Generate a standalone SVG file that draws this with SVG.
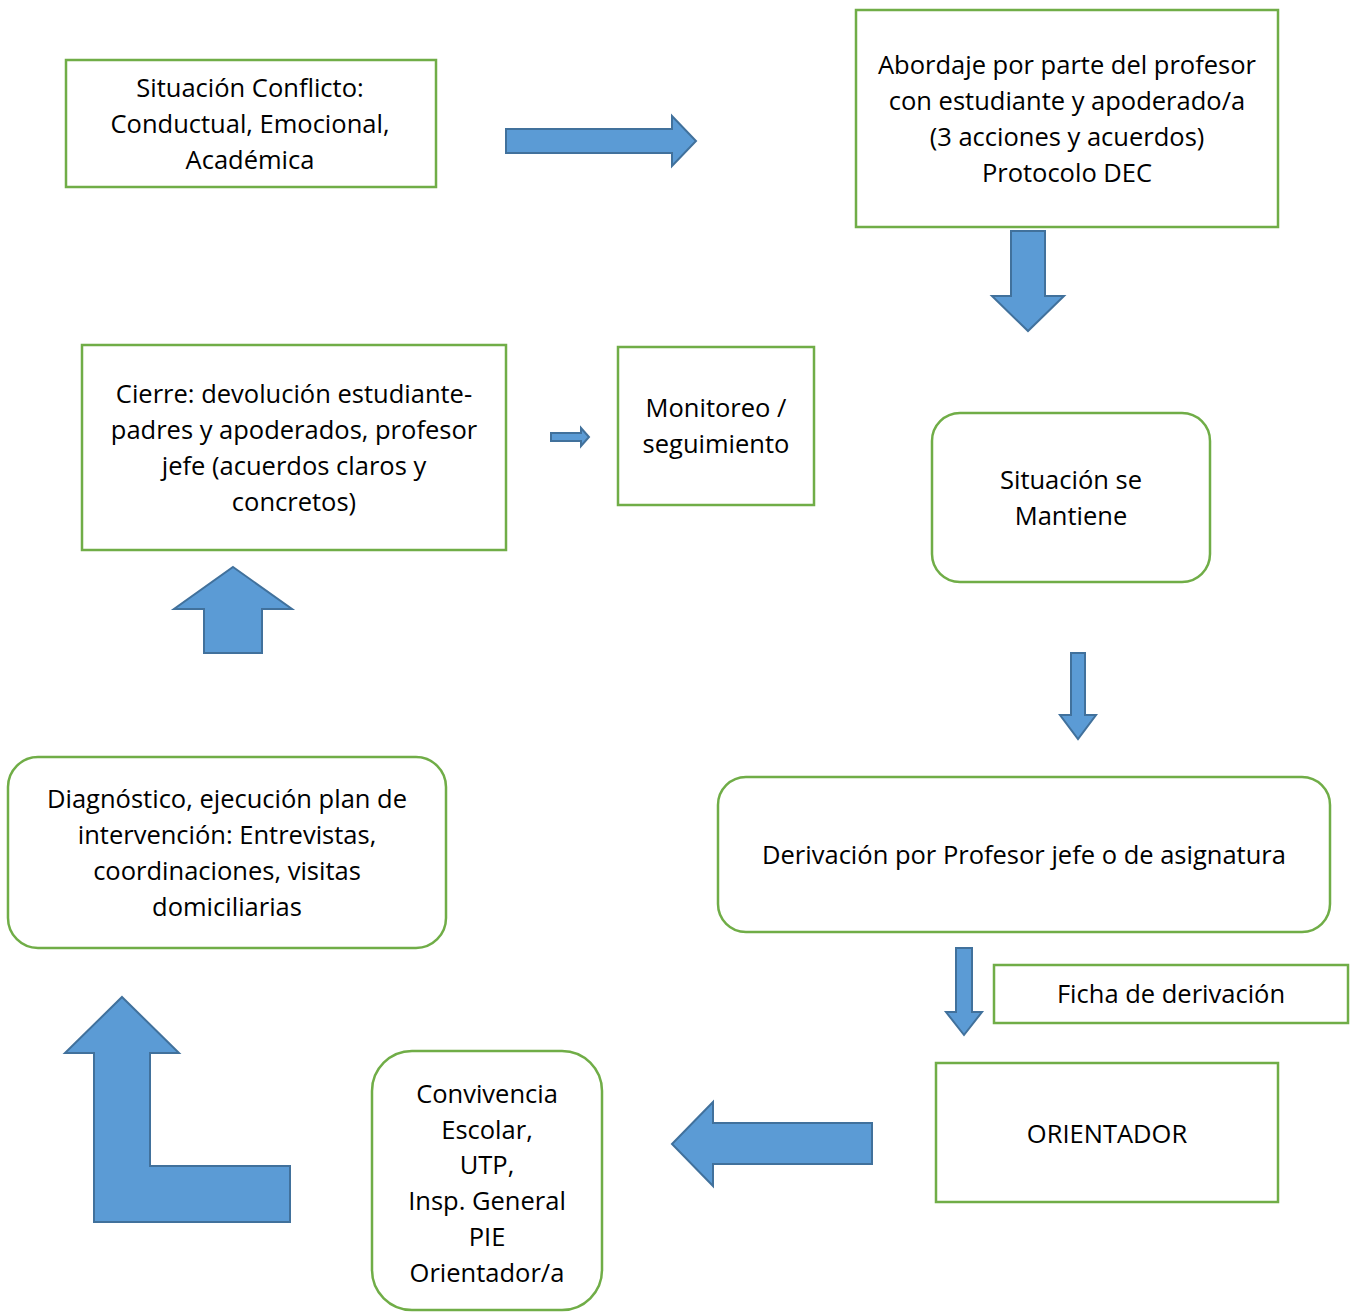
<svg xmlns="http://www.w3.org/2000/svg" width="1358" height="1312" viewBox="0 0 1358 1312">
<style>
.box{fill:#fff;stroke:#70ad47;stroke-width:2.5}
.arr{fill:#5b9bd5;stroke:#41719c;stroke-width:2;stroke-linejoin:miter}
text{font-family:"Open Sans","Noto Sans",sans-serif;font-size:25.5px;fill:#000;text-anchor:middle}
</style>
<rect width="1358" height="1312" fill="#fff"/>
<g id="connectors">
<path class="arr" d="M506,129 H672 V116 L696,141 L672,166 V153 H506 Z"/>
<path class="arr" d="M1011,231 H1045 V296 H1064 L1028,331 L992,296 H1011 Z"/>
<path class="arr" d="M551,433 H581 V428 L589,437 L581,446 V441 H551 Z"/>
<path class="arr" d="M233,567 L292,609 H262 V653 H204 V609 H174 Z"/>
<path class="arr" d="M1071,653 H1085 V715 H1096 L1078,739 L1060,715 H1071 Z"/>
<path class="arr" d="M956,948 H972 V1012 H982 L964,1035 L946,1012 H956 Z"/>
<path class="arr" d="M672,1144 L713,1102 V1123 H872 V1164 H713 V1186 Z"/>
<path class="arr" d="M122,997 L179,1053 H150 V1166 H290 V1222 H94 V1053 H65 Z"/>
</g>
<g id="n1"><rect class="box" x="66" y="60" width="370" height="127"/>
<text x="250" y="97">Situación Conflicto:</text><text x="250" y="133">Conductual, Emocional,</text><text x="250" y="169">Académica</text></g>
<g id="n2"><rect class="box" x="856" y="10" width="422" height="217"/>
<text x="1067" y="74">Abordaje por parte del profesor</text><text x="1067" y="110">con estudiante y apoderado/a</text><text x="1067" y="146">(3 acciones y acuerdos)</text><text x="1067" y="182">Protocolo DEC</text></g>
<g id="n3"><rect class="box" x="82" y="345" width="424" height="205"/>
<text x="294" y="403">Cierre: devolución estudiante-</text><text x="294" y="439">padres y apoderados, profesor</text><text x="294" y="475">jefe (acuerdos claros y</text><text x="294" y="511">concretos)</text></g>
<g id="n4"><rect class="box" x="618" y="347" width="196" height="158"/>
<text x="716" y="417">Monitoreo /</text><text x="716" y="453">seguimiento</text></g>
<g id="n5"><rect class="box" x="932" y="413" width="278" height="169" rx="28"/>
<text x="1071" y="489">Situación se</text><text x="1071" y="525">Mantiene</text></g>
<g id="n6"><rect class="box" x="718" y="777" width="612" height="155" rx="28"/>
<text x="1024" y="864">Derivación por Profesor jefe o de asignatura</text></g>
<g id="n7"><rect class="box" x="8" y="757" width="438" height="191" rx="30"/>
<text x="227" y="808">Diagnóstico, ejecución plan de</text><text x="227" y="844">intervención: Entrevistas,</text><text x="227" y="880">coordinaciones, visitas</text><text x="227" y="916">domiciliarias</text></g>
<g id="n8"><rect class="box" x="994" y="965" width="354" height="58"/>
<text x="1171" y="1003">Ficha de derivación</text></g>
<g id="n9"><rect class="box" x="936" y="1063" width="342" height="139"/>
<text x="1107" y="1143">ORIENTADOR</text></g>
<g id="n10"><rect class="box" x="372" y="1051" width="230" height="259" rx="40"/>
<text x="487" y="1103">Convivencia</text><text x="487" y="1139">Escolar,</text><text x="487" y="1174">UTP,</text><text x="487" y="1210">Insp. General</text><text x="487" y="1246">PIE</text><text x="487" y="1282">Orientador/a</text></g>
</svg>
